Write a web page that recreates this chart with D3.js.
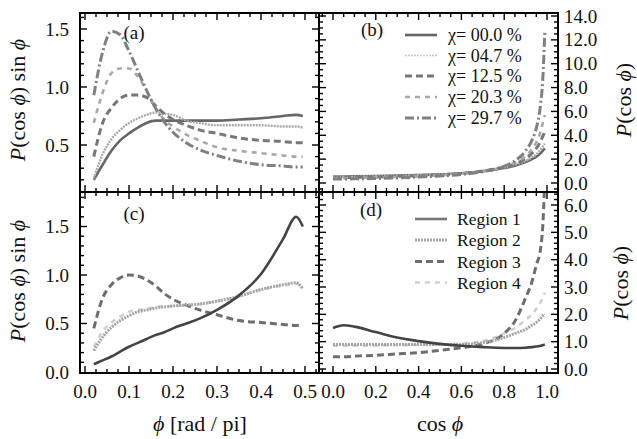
<!DOCTYPE html>
<html><head><meta charset="utf-8">
<script src="https://cdn.jsdelivr.net/npm/d3@7"></script>
</head><body style="margin:0"><svg id="c" width="637" height="439" style="background:#fff"></svg>
<script>
// ---------- data ----------
const phiGrid = [0.02,0.04,0.06,0.08,0.10,0.12,0.14,0.16,0.18,0.20,0.23,0.26,0.30,0.35,0.40,0.45,0.48,0.495];
const a_chi000 = [0.20,0.33,0.45,0.54,0.60,0.65,0.69,0.71,0.71,0.71,0.71,0.71,0.71,0.72,0.73,0.75,0.76,0.75];
const a_chi047 = [0.21,0.42,0.55,0.63,0.69,0.73,0.76,0.78,0.77,0.76,0.71,0.69,0.67,0.67,0.67,0.66,0.66,0.65];
const a_chi125 = [0.40,0.69,0.82,0.90,0.93,0.93,0.91,0.84,0.77,0.72,0.67,0.63,0.60,0.56,0.54,0.53,0.52,0.52];
const a_chi203 = [0.69,0.95,1.12,1.16,1.16,1.09,0.97,0.82,0.72,0.66,0.59,0.54,0.48,0.45,0.43,0.41,0.40,0.40];
const a_chi297 = [0.93,1.30,1.48,1.45,1.31,1.14,0.97,0.82,0.70,0.61,0.52,0.46,0.41,0.36,0.33,0.32,0.31,0.31];

const c_reg1 = [0.08,0.12,0.16,0.21,0.26,0.30,0.34,0.38,0.41,0.45,0.50,0.55,0.64,0.79,1.01,1.37,1.60,1.50];
const c_reg2 = [0.22,0.36,0.46,0.53,0.58,0.62,0.64,0.66,0.67,0.68,0.69,0.70,0.73,0.78,0.85,0.90,0.92,0.86];
const c_reg3 = [0.45,0.76,0.90,0.97,1.00,0.99,0.95,0.89,0.81,0.75,0.69,0.64,0.59,0.53,0.51,0.49,0.48,0.48];
const c_reg4 = [0.26,0.42,0.51,0.57,0.62,0.64,0.65,0.67,0.68,0.68,0.69,0.70,0.73,0.78,0.85,0.89,0.91,0.86];

const cosGrid = [0.0,0.05,0.1,0.2,0.3,0.4,0.5,0.6,0.7,0.8,0.85,0.9,0.93,0.95,0.97,0.98,0.99];
const b_chi000 = [0.55,0.55,0.56,0.58,0.62,0.66,0.72,0.82,0.98,1.25,1.45,1.75,2.0,2.2,2.5,2.7,2.9];
const b_chi047 = [0.52,0.52,0.53,0.56,0.60,0.65,0.72,0.83,1.00,1.30,1.52,1.85,2.15,2.4,2.8,3.05,3.3];
const b_chi125 = [0.45,0.45,0.46,0.50,0.55,0.60,0.68,0.80,1.00,1.35,1.60,2.05,2.5,2.9,3.5,3.9,4.3];
const b_chi203 = [0.40,0.41,0.42,0.45,0.50,0.56,0.64,0.77,0.98,1.38,1.70,2.25,2.85,3.4,4.3,5.0,5.7];
const b_chi297 = [0.33,0.34,0.35,0.38,0.43,0.50,0.58,0.72,0.95,1.42,1.85,2.7,3.6,4.6,6.6,8.6,12.8];

const d_reg1 = [1.50,1.60,1.55,1.35,1.15,1.02,0.92,0.85,0.80,0.77,0.77,0.78,0.80,0.82,0.85,0.87,0.90];
const d_reg2 = [0.90,0.90,0.90,0.90,0.90,0.90,0.90,0.90,0.97,1.15,1.30,1.45,1.60,1.70,1.85,1.95,2.00];
const d_reg3 = [0.45,0.45,0.47,0.50,0.55,0.60,0.68,0.78,0.92,1.30,1.75,2.6,3.2,3.8,4.4,5.2,7.0];
const d_reg4 = [0.85,0.85,0.85,0.86,0.87,0.88,0.90,0.93,1.02,1.30,1.50,1.80,2.0,2.2,2.45,2.6,2.8];

const chiLabels = ["\u03C7= 00.0 %","\u03C7= 04.7 %","\u03C7= 12.5 %","\u03C7= 20.3 %","\u03C7= 29.7 %"];
const regionLabels = ["Region 1","Region 2","Region 3","Region 4"];

const phiTicks = [0.0,0.1,0.2,0.3,0.4,0.5];
const cosTicks = [0.0,0.2,0.4,0.6,0.8,1.0];
const aTicks = [0.5,1.0,1.5];
const cTicks = [0.0,0.5,1.0,1.5];
const bTicks = [0,2,4,6,8,10,12,14];
const dTicks = [0,1,2,3,4,5,6];

// ---------- styles ----------
const chiStyles = [
  {c:"#666", w:2.6, d:null},
  {c:"#aaa", w:2.4, d:"2,1"},
  {c:"#777", w:3, d:"7,4"},
  {c:"#a8a8a8", w:2.6, d:"5,5"},
  {c:"#808080", w:3, d:"9,3,2,3"}
];
const regStyles = [
  {c:"#444", w:2.6, d:null},
  {c:"#a6a6a6", w:3, d:"2,1"},
  {c:"#6e6e6e", w:3, d:"7,4"},
  {c:"#cfcfcf", w:2.6, d:"5,5"}
];

const svg = d3.select("#c");
function txt(sel, size){
  return sel.append("text")
    .attr("font-family","Liberation Serif")
    .style("font-family","Liberation Serif")
    .attr("font-size",size).attr("fill","#111");
}

const xPhi = d3.scaleLinear().domain([0,0.5]).range([85,305]);
const xCos = d3.scaleLinear().domain([0,1]).range([333,547]);
const yA = d3.scaleLinear().domain([0.5,1.5]).range([145,29]);
const yC = d3.scaleLinear().domain([0,1.5]).range([372,226.5]);
const yB = d3.scaleLinear().domain([0,14]).range([183,16]);
const yD = d3.scaleLinear().domain([0,6]).range([369,205]);

const panels = {
  a:{x:xPhi,y:yA,x0:80,x1:319,y0:13,y1:192},
  b:{x:xCos,y:yB,x0:319,x1:558,y0:13,y1:192},
  c:{x:xPhi,y:yC,x0:80,x1:319,y0:192,y1:373},
  d:{x:xCos,y:yD,x0:319,x1:558,y0:192,y1:373}
};

const defs = svg.append("defs");
Object.entries(panels).forEach(([k,p])=>{
  defs.append("clipPath").attr("id","clip-"+k).append("rect")
    .attr("x",p.x0).attr("y",p.y0).attr("width",p.x1-p.x0).attr("height",p.y1-p.y0);
});

function drawSeries(k, xs, ys, st){
  const p = panels[k];
  const line = d3.line().x((d,i)=>p.x(xs[i])).y(d=>p.y(d)).curve(d3.curveMonotoneX);
  svg.append("path").attr("clip-path","url(#clip-"+k+")")
    .attr("d", line(ys)).attr("fill","none")
    .attr("stroke",st.c).attr("stroke-width",st.w)
    .attr("stroke-dasharray",st.d).attr("stroke-linejoin","round");
}

[a_chi000,a_chi047,a_chi125,a_chi203,a_chi297].forEach((s,i)=>drawSeries("a",phiGrid,s,chiStyles[i]));
[b_chi000,b_chi047,b_chi125,b_chi203,b_chi297].forEach((s,i)=>drawSeries("b",cosGrid,s,chiStyles[i]));
[c_reg4,c_reg3,c_reg2,c_reg1].forEach((s,i)=>drawSeries("c",phiGrid,s,regStyles[3-i]));
[d_reg4,d_reg3,d_reg2,d_reg1].forEach((s,i)=>drawSeries("d",cosGrid,s,regStyles[3-i]));

// ---------- ticks ----------
const g = svg.append("g").attr("stroke","#000").attr("stroke-width",1.4);
function xTicks(p, major, minorStep){
  const [d0,d1] = [p.x.invert(p.x0), p.x.invert(p.x1)];
  const minor = d3.range(Math.ceil(d0/minorStep)*minorStep, d1, minorStep);
  minor.forEach(v=>{
    const isMaj = major.some(m=>Math.abs(m-v)<1e-6);
    const L = isMaj?7:4;
    const X = p.x(v);
    if (X<=p.x0+1 || X>=p.x1-1) return;
    g.append("line").attr("x1",X).attr("x2",X).attr("y1",p.y1).attr("y2",p.y1-L);
    g.append("line").attr("x1",X).attr("x2",X).attr("y1",p.y0).attr("y2",p.y0+L);
  });
}
function yTicks(p, major, minorStep){
  const lo = p.y.invert(p.y1), hi = p.y.invert(p.y0);
  const minor = d3.range(Math.ceil(lo/minorStep - 1e-9)*minorStep, hi, minorStep);
  minor.forEach(v=>{
    const isMaj = major.some(m=>Math.abs(m-v)<1e-6);
    const L = isMaj?7:4;
    const Y = p.y(v);
    if (Y<=p.y0+1 || Y>=p.y1-1) return;
    g.append("line").attr("y1",Y).attr("y2",Y).attr("x1",p.x0).attr("x2",p.x0+L);
    g.append("line").attr("y1",Y).attr("y2",Y).attr("x1",p.x1).attr("x2",p.x1-L);
  });
}
xTicks(panels.a, phiTicks, 0.025); xTicks(panels.c, phiTicks, 0.025);
xTicks(panels.b, cosTicks, 0.05); xTicks(panels.d, cosTicks, 0.05);
yTicks(panels.a, aTicks, 0.1); yTicks(panels.c, cTicks, 0.1);
yTicks(panels.b, bTicks, 0.5); yTicks(panels.d, dTicks, 0.2);

// frames
Object.values(panels).forEach(p=>{
  svg.append("rect").attr("x",p.x0).attr("y",p.y0).attr("width",p.x1-p.x0).attr("height",p.y1-p.y0)
    .attr("fill","none").attr("stroke","#000").attr("stroke-width",2);
});

// ---------- tick labels ----------
phiTicks.forEach(v=>txt(svg,19).attr("x",xPhi(v)).attr("y",398).attr("text-anchor","middle").text(v.toFixed(1)));
cosTicks.forEach(v=>txt(svg,19).attr("x",xCos(v)).attr("y",398).attr("text-anchor","middle").text(v.toFixed(1)));
aTicks.forEach(v=>txt(svg,19).attr("x",69).attr("y",yA(v)+6.5).attr("text-anchor","end").text(v.toFixed(1)));
cTicks.forEach(v=>txt(svg,19).attr("x",69).attr("y",yC(v)+6.5).attr("text-anchor","end").text(v.toFixed(1)));
bTicks.forEach(v=>txt(svg,19).attr("x",564).attr("y",yB(v)+6.5).attr("text-anchor","start").text(v.toFixed(1)));
dTicks.forEach(v=>txt(svg,19).attr("x",564).attr("y",yD(v)+6.5).attr("text-anchor","start").text(v.toFixed(1)));

// panel labels
[["(a)",134,39],["(b)",372,36],["(c)",134,220],["(d)",371,216]].forEach(([t,x,y])=>
  txt(svg,19).attr("x",x).attr("y",y).attr("text-anchor","middle").text(t));

// ---------- axis titles ----------
function yTitle(x,y,withSin){
  const t = txt(svg,22).attr("transform",`translate(${x},${y}) rotate(-90)`).attr("text-anchor","middle").attr("y",7);
  t.append("tspan").attr("font-style","italic").text("P");
  t.append("tspan").text("(cos ");
  t.append("tspan").attr("font-style","italic").text("\u03D5");
  t.append("tspan").text(withSin?") sin ":")");
  if(withSin) t.append("tspan").attr("font-style","italic").text("\u03D5");
}
yTitle(18,100,true); yTitle(18,281,true);
yTitle(624,100,false); yTitle(621,283,false);
{
  const t = txt(svg,22).attr("x",200).attr("y",431).attr("text-anchor","middle");
  t.append("tspan").attr("font-style","italic").text("\u03D5");
  t.append("tspan").text(" [rad / pi]");
  const t2 = txt(svg,22).attr("x",440).attr("y",431).attr("text-anchor","middle");
  t2.append("tspan").text("cos ");
  t2.append("tspan").attr("font-style","italic").text("\u03D5");
}

// ---------- legends ----------
const chiRows = [35,55.5,76,97,118];
chiLabels.forEach((t,i)=>{
  const st = chiStyles[i];
  svg.append("line").attr("x1",405).attr("x2",437).attr("y1",chiRows[i]).attr("y2",chiRows[i])
    .attr("stroke",i===1?"#c8c8c8":st.c).attr("stroke-width",i===1?1.5:st.w).attr("stroke-dasharray",st.d);
  txt(svg,18).attr("x",448).attr("y",chiRows[i]+6).text(t);
});
const regRows = [219,240,261.5,282.5];
regionLabels.forEach((t,i)=>{
  const st = regStyles[i];
  svg.append("line").attr("x1",415).attr("x2",447).attr("y1",regRows[i]).attr("y2",regRows[i])
    .attr("stroke",i===0?"#777":st.c).attr("stroke-width",st.w).attr("stroke-dasharray",st.d);
  txt(svg,17.5).attr("x",457).attr("y",regRows[i]+6).text(t);
});
</script></body></html>
